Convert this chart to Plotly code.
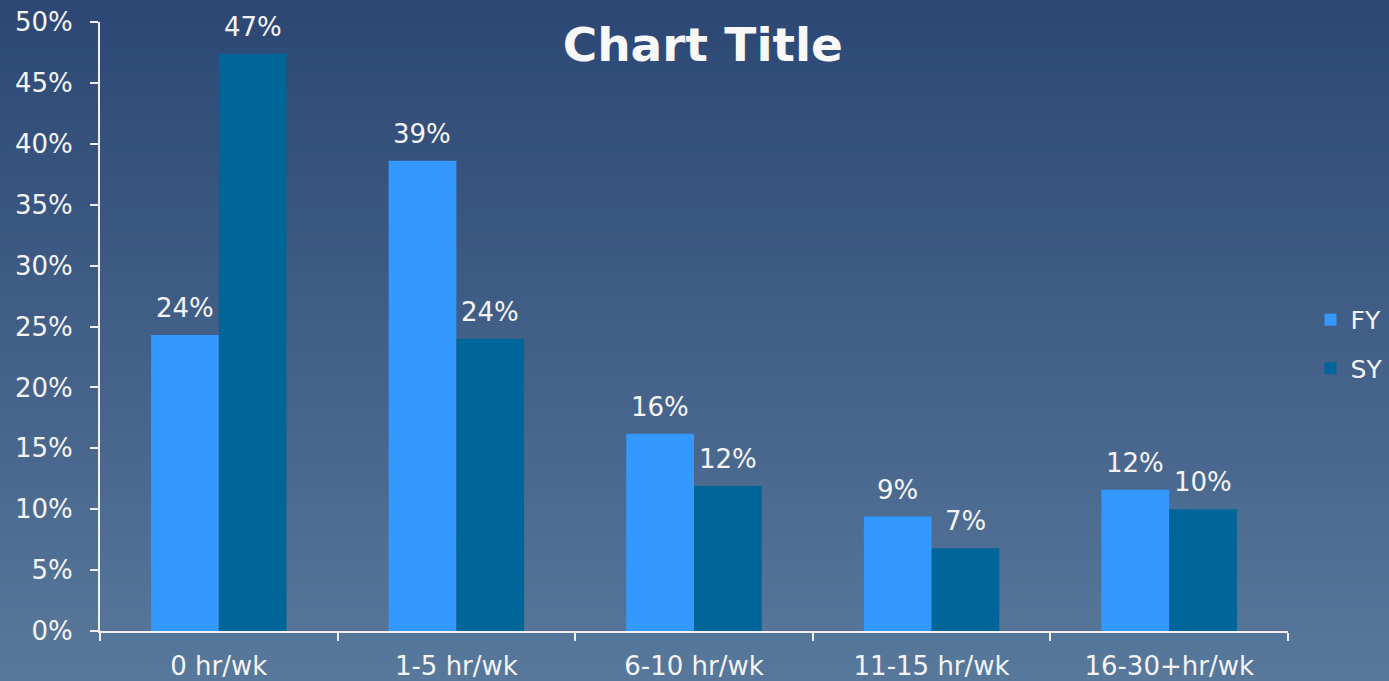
import plotly.graph_objects as go

categories = ["0 hr/wk", "1-5 hr/wk", "6-10 hr/wk", "11-15 hr/wk", "16-30+hr/wk"]
fy = [0.243, 0.386, 0.162, 0.094, 0.116]
sy = [0.474, 0.240, 0.119, 0.068, 0.100]

_FONT = "DejaVu Sans"
_TXT = "#f4f4f4"
_SZ = 26

fig = go.Figure()
fig.add_trace(go.Bar(x=categories, y=fy, name="FY", marker_color="#3399ff",
                     marker_line_width=0, legendgroup="fy"))
fig.add_trace(go.Bar(x=categories, y=sy, name="SY", marker_color="#006699",
                     marker_line_width=0, legendgroup="sy"))

# value labels above each bar
annotations = []
for vals, shift in ((fy, -34), (sy, 34)):
    for c, v in zip(categories, vals):
        annotations.append(dict(x=c, y=v, text="%d%%" % round(v * 100),
                                showarrow=False, xshift=shift, yshift=27,
                                yanchor="middle",
                                font=dict(size=_SZ, color=_TXT, family=_FONT)))

# vertical gradient background built from thin strips
top, bot = (0x2c, 0x47, 0x74), (0x58, 0x78, 0x9b)
n = 80
y0, y1 = -0.09, 1.04
shapes = []
for i in range(n):
    t = i / (n - 1)
    c = tuple(round(top[k] + (bot[k] - top[k]) * t) for k in range(3))
    ya = y1 - (y1 - y0) * i / n
    yb = y1 - (y1 - y0) * (i + 1) / n
    shapes.append(dict(type="rect", xref="paper", yref="paper",
                       x0=-0.1, x1=1.1, y0=yb - 0.002, y1=ya + 0.002,
                       fillcolor="rgb(%d,%d,%d)" % c, line_width=0,
                       layer="below"))

fig.update_layout(
    width=1389, height=681,
    shapes=shapes, annotations=annotations,
    barmode="group", bargap=0.43, bargroupgap=0,
    paper_bgcolor="#2c4774", plot_bgcolor="rgba(0,0,0,0)",
    font=dict(family=_FONT, color=_TXT, size=_SZ),
    title=dict(text="<b>Chart Title</b>", x=0.506, xanchor="center",
               y=0.935, yanchor="middle",
               font=dict(size=47, color="#f8f8f8", family=_FONT)),
    margin=dict(l=100, r=101, t=22, b=50),
    legend=dict(xref="container", yref="container", x=0.9435, y=0.495,
                xanchor="left", yanchor="middle",
                font=dict(size=25, color=_TXT), itemwidth=30,
                tracegroupgap=13, bgcolor="rgba(0,0,0,0)"),
    xaxis=dict(showline=True, linecolor="#f0f0f0", linewidth=2,
               ticks="outside", tickson="boundaries", ticklen=8,
               tickcolor="#f0f0f0", tickwidth=2, showgrid=False,
               ticklabelstandoff=11, automargin=False,
               tickfont=dict(size=_SZ, color=_TXT)),
    yaxis=dict(range=[0, 0.5], dtick=0.05, tickformat=".0%",
               showline=True, linecolor="#f0f0f0", linewidth=2,
               ticks="outside", ticklen=8, tickcolor="#f0f0f0", tickwidth=2,
               showgrid=False, zeroline=False, ticklabelstandoff=12,
               automargin=False,
               tickfont=dict(size=_SZ, color=_TXT)),
)

fig.write_html("out.html", config={"displayModeBar": False},
               post_script="document.body.style.margin='0';"
                           "document.body.style.overflow='hidden';")
